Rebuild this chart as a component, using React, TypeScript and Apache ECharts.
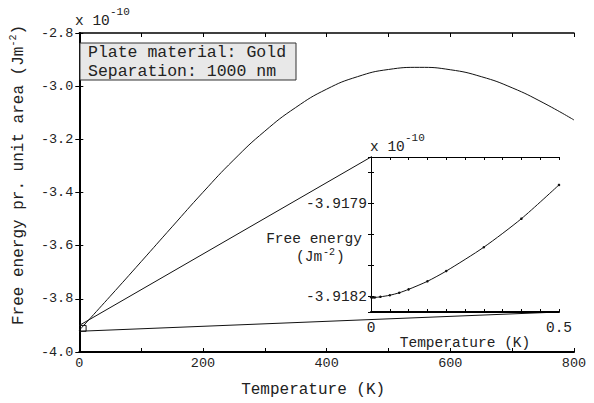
import React, { useEffect, useRef } from 'react';
import * as echarts from 'echarts';

// Main curve: temperature (K) vs free energy (x 1e-10 J/m^2)
const mainTemps = [0, 50, 100, 150, 200, 250, 300, 350, 400, 450, 500, 550, 600, 650, 700, 750, 800];
const mainEnergy = [-3.9182, -3.7902, -3.6602, -3.5292, -3.3992, -3.2767, -3.1692, -3.0802, -3.0112, -2.9642, -2.9372, -2.9292, -2.9382, -2.9642, -3.0062, -3.0622, -3.1272];

// Inset: low-temperature detail
const insetTemps = [0, 0.005, 0.01, 0.025, 0.05, 0.075, 0.1, 0.15, 0.2, 0.3, 0.4, 0.5];
const insetEnergy = [-3.918202, -3.918203, -3.918203, -3.918201, -3.918196, -3.918188, -3.918177, -3.918151, -3.918118, -3.918041, -3.917949, -3.91784];

// Zoom rectangle on the main axes (data units)
const zoomBoxT = [0, 11];
const zoomBoxE = [-3.922, -3.9];

const mainXTicks = [0, 200, 400, 600, 800];
const insetYLabels = [-3.9182, -3.9179];
const legendLines = ['Plate material: Gold', 'Separation: 1000 nm'];

const FONT = '"Liberation Mono", "DejaVu Sans Mono", monospace';
const TXT = '#222';

// layout
const G0 = { left: 73, top: 33, width: 501, height: 324 };
const G1 = { left: 371, top: 157, width: 188, height: 155 };

export default function App() {
  const ref = useRef<HTMLDivElement>(null);
  useEffect(() => {
    document.body.style.margin = '0';
    const chart = echarts.init(ref.current!, null, { renderer: 'svg' });
    const axisLineStyle = (w: number) => ({ show: true, lineStyle: { color: '#000', width: w } });
    const option: any = {
      animation: false,
      backgroundColor: '#fff',
      grid: [
        { ...G0, containLabel: false },
        { ...G1, containLabel: false, show: true, backgroundColor: '#fff', borderWidth: 0, z: 10 },
      ],
      xAxis: [
        {
          gridIndex: 0, type: 'value', min: 0, max: 800, interval: 100, position: 'bottom',
          axisLine: axisLineStyle(2),
          axisTick: { inside: true, length: 4, lineStyle: { color: '#000' } },
          axisLabel: {
            margin: 4, fontFamily: FONT, fontSize: 13.5, color: TXT,
            formatter: (v: number) => (mainXTicks.indexOf(v) >= 0 ? String(v) : ''),
          },
          splitLine: { show: false },
          name: 'Temperature (K)', nameLocation: 'middle', nameGap: 30,
          nameTextStyle: { fontFamily: FONT, fontSize: 16, color: TXT, padding: [0, 27, 0, 0] },
        },
        {
          gridIndex: 0, type: 'value', min: 0, max: 800, interval: 100, position: 'top',
          axisLine: axisLineStyle(1.5),
          axisTick: { inside: true, length: 4, lineStyle: { color: '#000' } },
          axisLabel: { show: false }, splitLine: { show: false },
        },
        {
          gridIndex: 1, type: 'value', min: 0, max: 0.5, interval: 0.05, position: 'bottom', z: 11,
          axisLine: axisLineStyle(2),
          axisTick: { inside: true, length: 3, lineStyle: { color: '#000' } },
          axisLabel: {
            margin: 8, fontFamily: FONT, fontSize: 14.5, color: TXT,
            formatter: (v: number) => (Math.abs(v) < 1e-9 ? '0' : Math.abs(v - 0.5) < 1e-9 ? '0.5' : ''),
          },
          splitLine: { show: false },
          name: 'Temperature (K)', nameLocation: 'middle', nameGap: 19,
          nameTextStyle: { fontFamily: FONT, fontSize: 14.5, color: TXT },
        },
        {
          gridIndex: 1, type: 'value', min: 0, max: 0.5, interval: 0.05, position: 'top', z: 11,
          axisLine: axisLineStyle(1),
          axisTick: { inside: true, length: 3, lineStyle: { color: '#000' } },
          axisLabel: { show: false }, splitLine: { show: false },
        },
      ],
      yAxis: [
        {
          gridIndex: 0, type: 'value', min: -4, max: -2.8, interval: 0.2, position: 'left',
          axisLine: axisLineStyle(2),
          axisTick: { inside: true, length: 4, lineStyle: { color: '#000' } },
          axisLabel: { margin: 6, fontFamily: FONT, fontSize: 13.5, color: TXT, formatter: (v: number) => v.toFixed(1) },
          splitLine: { show: false },
          name: 'Free energy pr. unit area (Jm{s|-2})', nameLocation: 'middle', nameGap: 39,
          nameTextStyle: {
            fontFamily: FONT, fontSize: 16, color: TXT, lineHeight: 22, padding: [0, 0, 0, 35],
            rich: { s: { fontFamily: FONT, fontSize: 10, color: TXT, verticalAlign: 'top', lineHeight: 12 } },
          },
        },
        {
          gridIndex: 0, type: 'value', min: -4, max: -2.8, interval: 0.2, position: 'right',
          axisLine: axisLineStyle(1.5),
          axisTick: { inside: true, length: 4, lineStyle: { color: '#000' } },
          axisLabel: { show: false }, splitLine: { show: false },
        },
        {
          gridIndex: 1, type: 'value', min: -3.91825, max: -3.91775, splitNumber: 5, position: 'left', z: 11,
          axisLine: axisLineStyle(1),
          axisTick: { inside: true, length: 3, lineStyle: { color: '#000' } },
          axisLabel: {
            margin: 4, fontFamily: FONT, fontSize: 14.5, color: TXT,
            showMinLabel: false, showMaxLabel: false,
            formatter: (v: number) => {
              for (const l of insetYLabels) if (Math.abs(v - l) < 1e-8) return l.toFixed(4);
              return '';
            },
          },
          splitLine: { show: false },
        },
        {
          gridIndex: 1, type: 'value', min: -3.91825, max: -3.91775, splitNumber: 5, position: 'right', z: 11,
          axisLine: axisLineStyle(1),
          axisTick: { inside: true, length: 3, lineStyle: { color: '#000' } },
          axisLabel: { show: false }, splitLine: { show: false },
        },
      ],
      series: [
        {
          type: 'line', xAxisIndex: 0, yAxisIndex: 0, z: 2,
          data: mainTemps.map((t, i) => [t, mainEnergy[i]]),
          smooth: 0.5, showSymbol: false,
          lineStyle: { color: '#111', width: 1 },
        },
        {
          type: 'line', xAxisIndex: 2, yAxisIndex: 2, z: 12,
          data: insetTemps.map((t, i) => [t, insetEnergy[i]]),
          smooth: 0.25, showSymbol: true, symbol: 'circle', symbolSize: 2.5,
          itemStyle: { color: '#111' },
          lineStyle: { color: '#111', width: 1 },
        },
      ],
    };
    chart.setOption(option);

    const p = (t: number, e: number) => chart.convertToPixel({ xAxisIndex: 0, yAxisIndex: 0 }, [t, e]) as number[];
    const tl = p(zoomBoxT[0], zoomBoxE[1]);
    const tr = p(zoomBoxT[1], zoomBoxE[1]);
    const br = p(zoomBoxT[1], zoomBoxE[0]);
    const bl = p(zoomBoxT[0], zoomBoxE[0]);
    const insetTL = [G1.left, G1.top];
    const insetBR = [G1.left + G1.width, G1.top + G1.height];
    const lineStyle = { stroke: '#111', lineWidth: 1, fill: null };
    const txt = (x: number, y: number, text: string, size: number, extra: any = {}) => ({
      type: 'text', x, y, z: 30,
      style: { text, fontFamily: FONT, fontSize: size, fill: TXT, align: 'left', verticalAlign: 'middle', ...extra },
    });

    chart.setOption({
      graphic: [{
        elements: [
          { type: 'polyline', z: 3, shape: { points: [tl, tr, br, bl] }, style: lineStyle },
          { type: 'line', z: 3, shape: { x1: tl[0], y1: tl[1], x2: insetTL[0], y2: insetTL[1] }, style: lineStyle },
          { type: 'line', z: 3, shape: { x1: bl[0], y1: bl[1], x2: insetBR[0], y2: insetBR[1] }, style: lineStyle },
          { type: 'rect', z: 25, shape: { x: 80, y: 43, width: 216, height: 37 }, style: { fill: '#e8e8e8', stroke: '#333', lineWidth: 1 } },
          txt(88, 52, legendLines[0], 16.5),
          txt(88, 71.5, legendLines[1], 16.5),
          txt(75, 21, 'x 10', 14.5),
          txt(110, 12, '-10', 11),
          txt(370, 147, 'x 10', 14.5),
          txt(405, 138, '-10', 11),
          txt(314, 239, 'Free energy', 14.5, { align: 'center' }),
          txt(296, 257, '(Jm', 14.5),
          txt(323, 252.5, '-2', 10),
          txt(336, 257, ')', 14.5),
        ],
      }],
    });
    return () => chart.dispose();
  }, []);
  return <div ref={ref} style={{ position: 'absolute', left: 0, top: 0, width: 594, height: 403 }} />;
}
